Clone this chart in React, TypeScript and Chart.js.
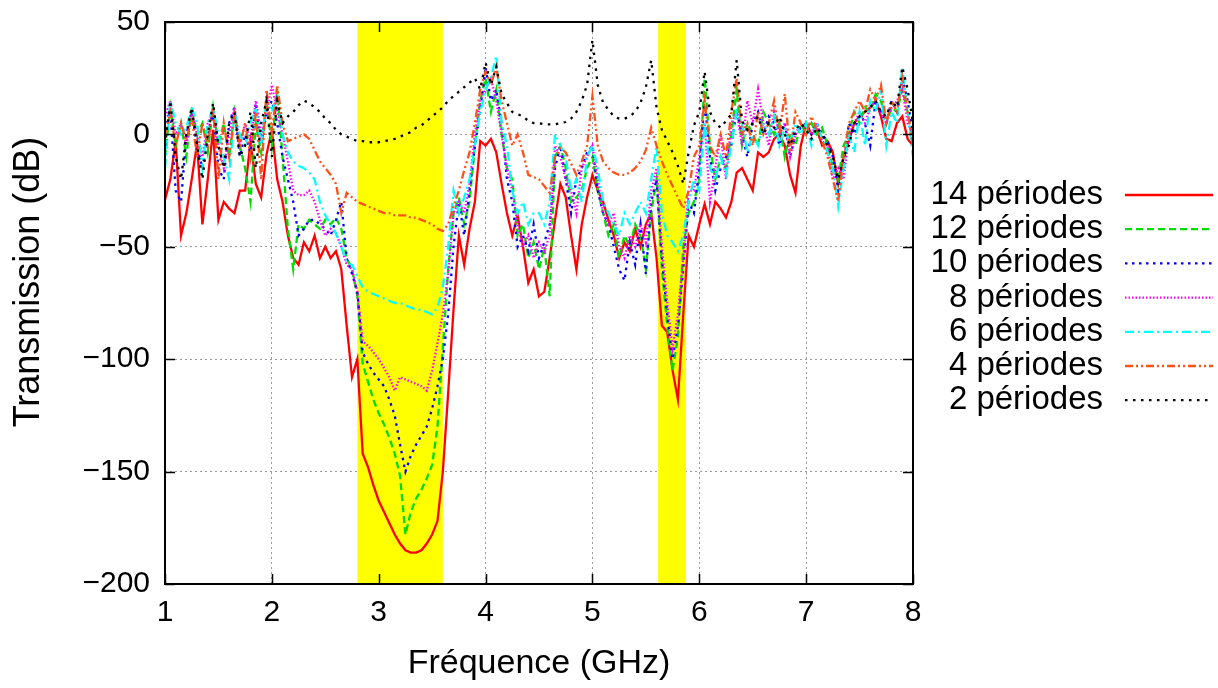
import React, { useEffect, useRef } from "react";
import { Chart, registerables } from "chart.js";

Chart.register(...registerables);

// Frequency grid (GHz)
const frequencies = [
  1.00, 1.05, 1.10, 1.15, 1.20, 1.25, 1.30, 1.35, 1.40, 1.45, 1.50, 1.55, 1.60, 1.65, 1.70, 1.75, 1.80, 1.85, 1.90, 1.95, 2.00, 2.05, 2.10,
  2.15, 2.20, 2.25, 2.30, 2.35, 2.40, 2.45, 2.50, 2.55, 2.60, 2.65, 2.70, 2.75, 2.80, 2.85, 2.90, 2.95, 3.00, 3.05, 3.10, 3.15, 3.20, 3.25, 3.30, 3.35, 3.40, 3.45, 3.50, 3.55,
  3.60, 3.65, 3.70, 3.75, 3.80, 3.85, 3.90, 3.95, 4.00, 4.05, 4.10, 4.15, 4.20,
  4.25, 4.30, 4.35, 4.40, 4.45, 4.50, 4.55, 4.60, 4.65, 4.70, 4.75, 4.80, 4.85, 4.90, 4.95, 5.00, 5.05, 5.10, 5.15, 5.20, 5.25, 5.30, 5.35, 5.40, 5.45, 5.50, 5.55,
  5.60, 5.65, 5.70, 5.75, 5.80, 5.85, 5.90,
  5.95, 6.00, 6.05, 6.10, 6.15, 6.20, 6.25, 6.30, 6.35, 6.40, 6.45, 6.50, 6.55, 6.60, 6.65, 6.70, 6.75, 6.80, 6.85, 6.90, 6.95,
  7.00, 7.05, 7.10, 7.15, 7.20, 7.25, 7.30, 7.35, 7.40, 7.45, 7.50, 7.55, 7.60, 7.65, 7.70, 7.75, 7.80, 7.85, 7.90, 7.95, 8.00,
];

// Transmission (dB) for each number of periods
const periods14 = [
  -29, -20, -3, -45, -35, -20, -4, -40, -20, 2, -38, -30, -33, -35, -25, -25, -3, -22, -28, -9, 2, -20, -30,
  -45, -55, -58, -48, -52, -45, -55, -50, -55, -52, -60, -85, -108, -100, -142, -148, -156, -163, -168, -173, -178, -182, -185, -186, -186, -185, -182, -178, -172,
  -150, -115, -78, -45, -58, -42, -30, -3, -5, -2, -8, -22, -35,
  -45, -36, -50, -66, -60, -72, -70, -55, -38, -22, -28, -45, -60, -40, -28, -18, -25, -30, -38, -45, -55, -48, -52, -42, -50, -40, -35,
  -55, -85, -88, -105, -118, -80, -45,
  -50, -40, -31, -40, -30, -33, -37, -30, -17, -15, -20, -25, -8, -10, -8, -2, 0, -5, -18, -26, -5,
  5, 0, 2, -5, -3, -8, -22, -10, -3, 5, 8, 10, 12, 15, 8, -2, -3, 5, 8, -2, -5,
];

const periods12 = [
  -10, 12, -5, 5, -10, 12, 0, 5, -8, 12, -5, 5, -10, 10, -5, -15, -30, 5, -8, 15, -5, 20, -10,
  -42, -60, -40, -42, -38, -40, -42, -38, -40, -37, -42, -55, -60, -72, -102, -110, -118, -124, -129, -135, -142, -152, -178, -168, -162, -158, -153, -147, -130,
  -95, -60, -35, -28, -40, -30, -5, 15, 25, 10, 20, 0, -15,
  -20, -45, -40, -55, -48, -60, -50, -72, -10, -5, -15, -30, -28, -25, -15, -10, -25, -35, -45, -40, -55, -45, -50, -40, -45, -60, -35,
  -20, -60, -85, -105, -90, -50, -35,
  -30, -20, 25, -5, -20, -10, -15, 0, 20, -5, 5, 0, -5, 10, 5, 0, 5, -10, 0, -5, 5,
  0, 5, 0, 3, -5, -15, -20, -5, 0, 10, 5, 12, 10, 18, 15, 5, 12, 10, 20, 10, -5,
];

const periods10 = [
  5, 10, -25, -30, 0, 10, -5, -15, 0, 10, -15, -20, 5, 12, -10, 0, -8, 14, -5, 10, 15, 5, -10,
  -20, -30, -45, -42, -38, -38, -40, -42, -45, -38, -30, -55, -62, -70, -97, -102, -106, -109, -112, -118, -125, -138, -150, -143, -138, -134, -130, -122, -112,
  -100, -80, -50, -30, -45, -25, -5, 10, 30, 15, 20, 5, -20,
  -30, -50, -45, -52, -40, -55, -48, -40, -15, -5, -20, -35, -20, -15, -8, -5, -25, -35, -40, -50, -60, -65, -48, -58, -40, -62, -30,
  -20, -55, -80, -100, -85, -60, -30,
  -35, -15, 15, -10, -25, -15, -10, -5, 10, 0, -10, 5, 10, 0, 8, 5, -5, 5, -10, 0, 3,
  5, 0, 5, 0, -3, -10, -25, -15, 5, 0, 10, 5, -5, 15, 10, 5, 15, 10, 25, 15, 0,
];

const periods8 = [
  8, 15, 0, 5, -5, 10, 0, -10, 5, 10, -5, -15, 0, 12, -5, 5, -3, 15, 0, 10, 22, 10, 0,
  -12, -25, -27, -27, -25, -30, -38, -45, -42, -44, -50, -58, -60, -70, -92, -94, -97, -100, -104, -108, -114, -108, -109, -110, -111, -112, -114, -105, -93,
  -80, -62, -35, -30, -35, -22, 0, 15, 20, 25, 15, 0, -15,
  -25, -40, -50, -45, -55, -48, -52, -45, -5, -10, -20, -25, -35, -15, -10, -5, -20, -35, -40, -35, -50, -55, -45, -50, -40, -48, -25,
  -15, -50, -75, -95, -80, -55, -25,
  -25, -10, 5, -30, -15, 0, -20, 5, 10, -5, 15, 5, 20, 5, -5, 10, 0, 5, -10, 0, 5,
  3, 0, 5, -3, -5, -20, -15, -20, 0, 5, 10, 5, 12, 15, 10, 5, 12, 15, 20, 5, 0,
];

const periods6 = [
  -15, 15, 5, 0, 3, 12, 5, -15, 5, 12, 0, -10, -20, 10, 0, -5, 5, 12, -5, 15, 10, 18, 0,
  -8, -12, -14, -15, -17, -20, -30, -36, -40, -44, -50, -57, -58, -63, -68, -70, -71, -72, -73, -74, -75, -75, -76, -77, -78, -78, -79, -80, -77,
  -68, -50, -25, -35, -28, -20, -5, 10, 20, 25, 35, 5, -5,
  -25, -35, -30, -40, -35, -35, -40, -30, 0, -5, -10, -25, -20, -30, -10, -5, -15, -30, -35, -40, -45, -35, -40, -35, -30, -35, -20,
  -5, -35, -45, -48, -52, -45, -30,
  -20, -25, 5, -15, -20, -10, -18, -5, 10, 5, -8, 0, -5, 5, 0, 8, -5, 3, -5, 5, 0,
  5, -5, 5, -2, -8, -15, -32, -15, 0, -8, 10, -5, 15, 10, 20, -5, 10, 5, 30, 10, -10,
];

const periods4 = [
  0, 10, -5, 5, -3, 8, -10, 5, -5, 12, -20, 5, -10, 8, -5, 5, -10, 10, -20, 20, 0, 22, 5,
  -3, -2, -1, 0, -2, -7, -12, -15, -18, -22, -35, -26, -28, -30, -31, -32, -33, -34, -35, -35, -36, -36, -36, -37, -37, -38, -39, -40, -42,
  -43, -40, -32, -25, -16, -8, 5, 20, 28, 22, 30, 15, 5,
  -5, 0, -8, -18, -19, -20, -23, -26, -10, -6, -8, -13, -18, -12, -5, 17, -5, -12, -15, -17, -18, -18, -17, -15, -12, -7, 3,
  -5, -12, -18, -23, -28, -33, -25,
  -10, -5, 15, -5, -10, 0, -10, 10, 25, 0, 5, -5, 10, 0, 5, 15, 0, 18, -8, 10, 5,
  0, 8, 2, -3, -10, -20, -30, -10, 5, 10, 15, 10, 20, 15, 22, 5, 15, 10, 25, 10, -5,
];

const periods2 = [
  -5, 15, -10, -20, 0, 12, -5, -20, 0, 14, -5, -15, 5, 10, -10, -5, 10, -15, 5, 15, -10, 15, 5,
  8, 10, 13, 15, 14, 12, 10, 7, 5, 2, 0, -1, -2, -3, -3, -3.5, -3.5, -3.5, -3, -2.5, -2, -1, 0, 1, 3, 4, 6, 8, 10,
  12, 15, 17, 19, 21, 23, 25, 20, 32, 22, 30, 18, 14,
  10, 9, 8, 6, 5, 5, 4.5, 4.5, 4.5, 5, 5.5, 7, 10, 15, 22, 42, 22, 14, 11, 8, 7, 7, 8, 10, 14, 21, 33,
  12, 2, -3, -8, -14, -22, -8,
  4, 10, 28, 10, 5, 3, 6, 9, 33, 6, 2, 5, 8, 0, 5, 3, 8, 0, -5, 2, 5,
  2, -2, 3, 0, -5, -10, -20, -10, -5, 5, 8, 10, 12, 15, 10, 8, 15, 12, 30, 20, 5,
];

const seriesLabels = [
  "14 périodes",
  "12 périodes",
  "10 périodes",
  "8 périodes",
  "6 périodes",
  "4 périodes",
  "2 périodes",
];
const seriesValues = [periods14, periods12, periods10, periods8, periods6, periods4, periods2];
const seriesColors = ["#ff0000", "#00dd00", "#0000ff", "#ff00ff", "#00ffff", "#ff5018", "#000000"];
const seriesDashes: number[][] = [[], [7, 4], [2.5, 4.5], [1.5, 2], [9, 4, 2, 4], [8, 3, 2, 3, 2, 3], [2.5, 5.5]];

// Band-gap regions (GHz) highlighted in yellow
const bandStarts = [2.8, 5.615];
const bandEnds = [3.6, 5.875];

const xTitle = "Fréquence (GHz)";
const yTitle = "Transmission (dB)";

const FONT = '"Liberation Sans", Arial, Helvetica, sans-serif';

export default function App() {
  const canvasRef = useRef<HTMLCanvasElement | null>(null);

  useEffect(() => {
    const canvas = canvasRef.current;
    if (!canvas) return;

    const bandPlugin = {
      id: "bands",
      beforeDatasetsDraw(chart: any) {
        const { ctx, chartArea, scales } = chart;
        const x = scales.x;
        ctx.save();
        ctx.fillStyle = "#ffff00";
        for (let i = 0; i < bandStarts.length; i++) {
          const x1 = x.getPixelForValue(bandStarts[i]);
          const x2 = x.getPixelForValue(bandEnds[i]);
          ctx.fillRect(x1, chartArea.top, x2 - x1, chartArea.bottom - chartArea.top);
        }
        ctx.restore();
      },
    };

    const framePlugin = {
      id: "frame",
      afterDatasetsDraw(chart: any) {
        const { ctx, chartArea, scales } = chart;
        const { left, right, top, bottom } = chartArea;
        const tl = 10;
        ctx.save();
        ctx.strokeStyle = "#000";
        ctx.lineWidth = 1.5;
        ctx.setLineDash([]);
        ctx.beginPath();
        scales.x.ticks.forEach((t: any) => {
          const px = Math.round(scales.x.getPixelForValue(t.value)) + 0.5;
          ctx.moveTo(px, bottom);
          ctx.lineTo(px, bottom - tl);
          ctx.moveTo(px, top);
          ctx.lineTo(px, top + tl);
        });
        scales.y.ticks.forEach((t: any) => {
          const py = Math.round(scales.y.getPixelForValue(t.value)) + 0.5;
          ctx.moveTo(left, py);
          ctx.lineTo(left + tl, py);
          ctx.moveTo(right, py);
          ctx.lineTo(right - tl, py);
        });
        ctx.stroke();
        ctx.lineWidth = 2;
        ctx.strokeRect(left, top, right - left, bottom - top);
        ctx.restore();
      },
    };

    const titlePlugin = {
      id: "yTitle",
      afterDraw(chart: any) {
        const { ctx, chartArea } = chart;
        ctx.save();
        ctx.font = `36px ${FONT}`;
        ctx.fillStyle = "#000";
        ctx.textAlign = "center";
        ctx.textBaseline = "middle";
        ctx.translate(29, chartArea.top + 260);
        ctx.rotate(-Math.PI / 2);
        ctx.fillText(yTitle, 0, 0);
        ctx.restore();
      },
    };

    const legendPlugin = {
      id: "sideLegend",
      afterDraw(chart: any) {
        const { ctx, chartArea } = chart;
        ctx.save();
        ctx.font = `33px ${FONT}`;
        ctx.textAlign = "right";
        ctx.textBaseline = "middle";
        chart.data.datasets.forEach((ds: any, i: number) => {
          const y = chartArea.top + 173 + i * 34.2;
          ctx.fillStyle = "#000";
          ctx.fillText(ds.label, chartArea.right + 190, y);
          ctx.strokeStyle = ds.borderColor;
          ctx.lineWidth = ds.borderWidth;
          ctx.setLineDash(ds.borderDash || []);
          ctx.beginPath();
          ctx.moveTo(chartArea.right + 212, y);
          ctx.lineTo(chartArea.right + 300, y);
          ctx.stroke();
        });
        ctx.restore();
      },
    };

    const datasets = seriesLabels.map((label, i) => ({
      label,
      data: frequencies.map((f, j) => ({ x: f, y: seriesValues[i][j] })),
      borderColor: seriesColors[i],
      backgroundColor: seriesColors[i],
      borderWidth: 2.3,
      borderDash: seriesDashes[i],
      pointRadius: 0,
      fill: false,
      tension: 0,
      order: seriesLabels.length - i,
    }));

    const chart = new Chart(canvas, {
      type: "line",
      data: { datasets },
      options: {
        animation: false,
        responsive: true,
        maintainAspectRatio: false,
        layout: { padding: { left: 0, right: 305, top: 22, bottom: 0 } },
        plugins: {
          legend: { display: false },
          tooltip: { enabled: false },
        },
        scales: {
          x: {
            type: "linear",
            min: 1,
            max: 8,
            afterFit(scale: any) {
              scale.height = 104;
            },
            ticks: {
              stepSize: 1,
              color: "#000",
              font: { family: FONT, size: 30, lineHeight: 1 },
              padding: 14,
              maxRotation: 0,
            },
            grid: { color: "#9a9a9a", lineWidth: 1, drawTicks: false },
            border: { display: false, dash: [2, 3] },
            title: {
              display: true,
              text: xTitle,
              color: "#000",
              font: { family: FONT, size: 34 },
              padding: { top: 0, bottom: 4 },
            },
          },
          y: {
            type: "linear",
            min: -200,
            max: 50,
            afterFit(scale: any) {
              scale.width = 165;
            },
            ticks: {
              stepSize: 50,
              color: "#000",
              font: { family: FONT, size: 30, lineHeight: 1 },
              padding: 4,
              callback: (v: any) => (Number(v) < 0 ? "\u2212" + Math.abs(Number(v)) : String(v)),
            },
            grid: {
              color: "#9a9a9a",
              lineWidth: 1,
              drawTicks: true,
              tickLength: 11,
              tickColor: "rgba(0,0,0,0)",
            },
            border: { display: false, dash: [2, 3] },
            title: { display: false },
          },
        },
      },
      plugins: [bandPlugin, framePlugin, titlePlugin, legendPlugin],
    });

    return () => chart.destroy();
  }, []);

  return (
    <div style={{ position: "absolute", left: 0, top: 0, width: 1218, height: 688, background: "#fff" }}>
      <canvas ref={canvasRef} />
    </div>
  );
}
